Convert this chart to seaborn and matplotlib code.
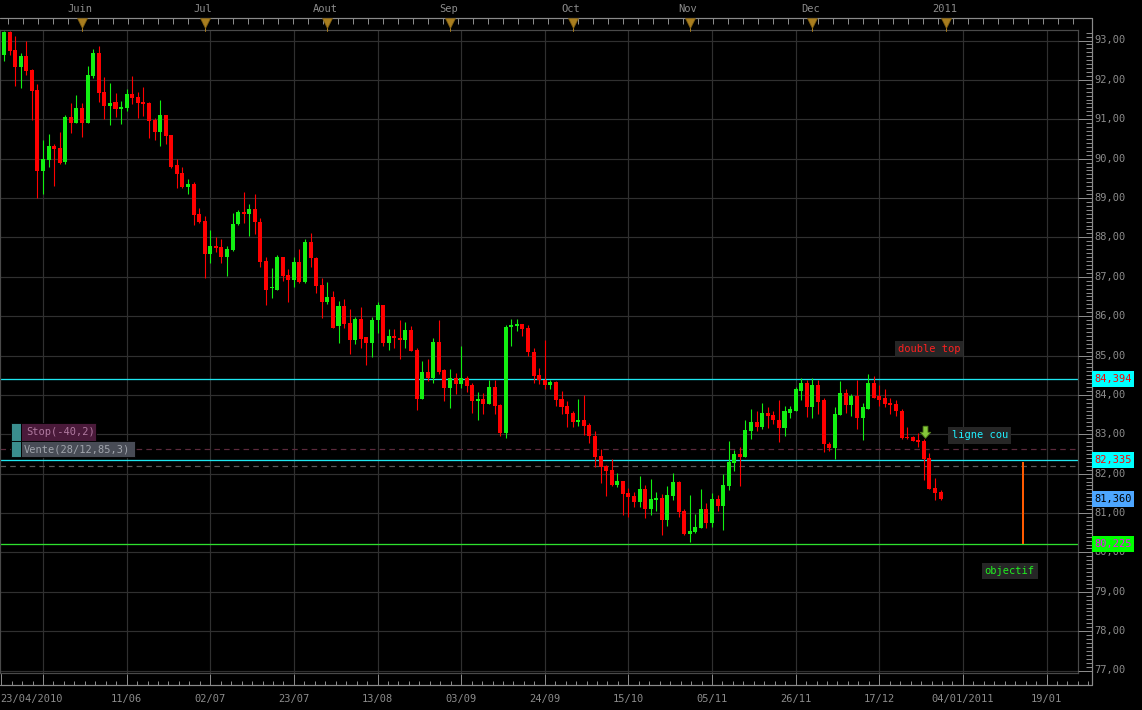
import numpy as np
import pandas as pd
import matplotlib
matplotlib.use("Agg")
import matplotlib.pyplot as plt
import matplotlib.transforms as mtransforms
from matplotlib.collections import LineCollection
from matplotlib.patches import Rectangle
from matplotlib.path import Path
import seaborn as sns

# daily candles (trading-day index 0..168)
opens = [92.64, 93.21, 92.75, 92.33, 92.60, 92.25, 91.74, 89.69, 89.97, 90.31,
         90.26, 89.92, 91.05, 90.91, 91.28, 90.91, 92.10, 92.68, 91.69, 91.34,
         91.43, 91.26, 91.29, 91.64, 91.56, 91.43, 91.41, 90.97, 90.68, 91.10,
         90.59, 89.83, 89.63, 89.27, 89.36, 88.60, 88.42, 87.59, 87.78, 87.76,
         87.49, 87.69, 88.33, 88.64, 88.60, 88.73, 88.40, 87.41, 86.71, 86.67,
         87.50, 87.05, 86.92, 87.38, 86.86, 87.89, 87.48, 86.80, 86.37, 86.49,
         85.75, 86.26, 85.83, 85.40, 85.93, 85.46, 85.31, 85.90, 86.29, 85.31,
         85.50, 85.45, 85.39, 85.65, 85.15, 83.89, 84.57, 84.44, 85.35, 84.62,
         84.17, 84.44, 84.28, 84.44, 84.24, 83.84, 83.89, 83.76, 84.19, 83.74,
         83.03, 85.73, 85.76, 85.81, 85.71, 85.10, 84.50, 84.37, 84.24, 84.32,
         83.89, 83.71, 83.54, 83.31, 83.36, 83.24, 82.96, 82.46, 82.20, 82.10,
         81.72, 81.82, 81.51, 81.44, 81.27, 81.61, 81.10, 81.33, 81.39, 80.82,
         81.44, 81.79, 81.05, 80.47, 80.51, 80.62, 81.11, 80.75, 81.36, 81.18,
         81.69, 82.28, 82.51, 82.43, 83.09, 83.32, 83.19, 83.55, 83.50, 83.37,
         83.17, 83.55, 83.60, 84.11, 84.29, 83.70, 84.24, 83.86, 82.76, 82.66,
         83.50, 84.06, 83.75, 83.98, 83.42, 83.65, 84.29, 83.96, 83.91, 83.80,
         83.78, 83.60, 82.93, 82.94, 82.86, 82.84, 82.40, 81.64, 81.54]
highs = [93.25, 93.25, 93.11, 92.69, 92.98, 92.27, 91.89, 90.48, 90.62, 90.38,
         90.67, 91.10, 91.41, 91.61, 91.42, 92.35, 92.78, 92.86, 92.07, 91.91,
         91.66, 91.46, 91.76, 92.09, 91.69, 91.81, 91.43, 91.04, 91.48, 91.10,
         90.59, 89.98, 89.78, 89.47, 89.41, 88.75, 88.55, 88.19, 88.00, 87.96,
         87.77, 88.63, 88.69, 89.16, 88.86, 89.11, 88.49, 87.51, 87.22, 87.56,
         87.50, 87.19, 87.50, 87.70, 87.96, 88.12, 87.51, 86.98, 86.87, 86.64,
         86.39, 86.43, 86.19, 85.97, 86.24, 85.48, 85.97, 86.36, 86.29, 85.68,
         85.68, 85.91, 85.84, 85.75, 85.20, 84.85, 84.90, 85.45, 85.90, 84.66,
         84.66, 84.56, 85.23, 84.49, 84.29, 84.07, 84.04, 84.37, 84.37, 83.76,
         85.78, 85.93, 85.93, 85.81, 85.78, 85.20, 84.67, 85.40, 84.37, 84.34,
         84.09, 83.84, 83.59, 83.89, 83.99, 83.29, 83.07, 82.62, 82.23, 82.38,
         82.01, 81.82, 81.63, 81.54, 81.94, 81.72, 81.87, 81.54, 81.49, 81.69,
         82.02, 81.82, 81.10, 81.46, 80.98, 81.61, 81.26, 81.51, 81.46, 82.00,
         82.84, 82.61, 82.68, 83.35, 83.63, 83.58, 83.80, 83.68, 83.60, 83.88,
         83.73, 83.73, 84.21, 84.44, 84.37, 84.44, 84.39, 83.93, 82.81, 83.70,
         84.34, 84.14, 84.03, 84.39, 83.80, 84.54, 84.47, 84.24, 84.16, 83.93,
         83.88, 83.63, 83.19, 82.95, 83.02, 82.89, 82.53, 81.89, 81.59]
lows = [92.48, 92.63, 91.84, 91.80, 92.12, 90.97, 89.00, 89.09, 89.79, 89.30,
        89.86, 89.86, 90.65, 90.91, 90.55, 90.91, 92.05, 91.44, 91.00, 90.86,
        91.05, 90.88, 91.20, 91.38, 91.03, 91.07, 90.52, 90.47, 90.32, 90.37,
        89.76, 89.25, 89.25, 89.10, 88.31, 88.37, 86.98, 87.34, 87.64, 87.36,
        87.03, 87.66, 88.31, 88.36, 88.03, 88.08, 87.24, 86.28, 86.47, 86.67,
        86.88, 86.35, 86.75, 86.83, 86.83, 87.25, 86.58, 85.94, 86.32, 85.69,
        85.33, 85.71, 85.03, 85.30, 85.19, 84.75, 84.95, 85.58, 85.24, 85.13,
        85.20, 84.90, 85.20, 85.12, 83.61, 83.89, 84.34, 84.29, 84.54, 83.84,
        83.66, 84.02, 84.17, 84.08, 83.54, 83.37, 83.51, 83.76, 83.51, 82.96,
        82.91, 85.23, 85.61, 85.50, 85.00, 84.29, 84.27, 84.14, 84.14, 83.71,
        83.51, 83.18, 83.18, 83.21, 82.98, 82.78, 82.17, 81.76, 81.42, 81.69,
        81.67, 80.94, 80.91, 81.16, 81.16, 80.88, 80.95, 81.04, 80.44, 80.66,
        81.33, 80.91, 80.44, 80.27, 80.49, 80.62, 80.62, 80.65, 81.05, 80.57,
        81.59, 82.07, 81.69, 82.43, 82.89, 83.07, 83.14, 83.17, 83.27, 82.81,
        82.96, 83.42, 83.60, 83.86, 83.45, 83.40, 83.52, 82.56, 82.58, 82.38,
        83.50, 83.55, 83.47, 83.14, 82.86, 83.65, 83.93, 83.73, 83.68, 83.52,
        83.47, 82.89, 82.89, 82.84, 82.68, 81.84, 81.61, 81.32, 81.32]
closes = [93.21, 92.74, 92.33, 92.60, 92.23, 91.72, 89.69, 89.98, 90.31, 90.24,
          89.90, 91.05, 90.91, 91.28, 90.91, 92.12, 92.68, 91.67, 91.34, 91.42,
          91.26, 91.31, 91.64, 91.54, 91.42, 91.38, 90.96, 90.68, 91.10, 90.58,
          89.80, 89.60, 89.27, 89.36, 88.58, 88.40, 87.59, 87.79, 87.74, 87.49,
          87.70, 88.34, 88.64, 88.60, 88.73, 88.38, 87.38, 86.67, 86.74, 87.50,
          87.03, 86.92, 87.38, 86.86, 87.89, 87.47, 86.77, 86.37, 86.49, 85.71,
          86.26, 85.81, 85.40, 85.93, 85.43, 85.31, 85.91, 86.29, 85.31, 85.50,
          85.44, 85.39, 85.65, 85.12, 83.89, 84.57, 84.44, 85.35, 84.59, 84.17,
          84.44, 84.28, 84.44, 84.22, 83.84, 83.89, 83.76, 84.19, 83.71, 83.03,
          85.73, 85.78, 85.81, 85.68, 85.08, 84.47, 84.37, 84.24, 84.32, 83.87,
          83.69, 83.51, 83.31, 83.36, 83.21, 82.95, 82.42, 82.18, 82.07, 81.72,
          81.82, 81.49, 81.41, 81.27, 81.61, 81.10, 81.36, 81.39, 80.82, 81.46,
          81.79, 81.03, 80.47, 80.55, 80.65, 81.11, 80.75, 81.36, 81.18, 81.72,
          82.30, 82.51, 82.43, 83.12, 83.32, 83.19, 83.55, 83.47, 83.35, 83.17,
          83.58, 83.63, 84.14, 84.29, 83.70, 84.24, 83.83, 82.74, 82.66, 83.52,
          84.06, 83.75, 83.98, 83.42, 83.68, 84.29, 83.93, 83.88, 83.78, 83.75,
          83.58, 82.91, 82.90, 82.84, 82.81, 82.38, 81.61, 81.51, 81.36]

# axis labels
price_ticks = list(range(77, 94))
month_idx = [14, 36, 58, 80, 102, 123, 145, 169]
month_labels = ["Juin", "Jul", "Aout", "Sep", "Oct", "Nov", "Dec", "2011"]
grid_idx = [7 + 15 * k for k in range(13)]
date_idx = grid_idx[1:]
date_labels = ["11/06", "02/07", "23/07", "13/08", "03/09", "24/09", "15/10",
               "05/11", "26/11", "17/12", "04/01/2011", "19/01"]
first_label = "23/04/2010"

# drawn levels
resistance = 84.394
neckline = 82.335
target = 80.225
last_price = closes[-1]
order_level = 82.62
stop_level = 82.19
target_idx = 182.7
arrow_idx, arrow_price = 165.2, 83.03

# pixel geometry of the original screen
W, H = 1142, 710
STEP, X0 = 5.575, 4.0
PLOT_R, PLOT_T, PLOT_B = 1078, 30.3, 673.3
Y93, PPU = 40.5, 39.375
RULER_R = 1092
GRAY = "#8c8c8c"
FS = 7.5
PX = 0.72  # one pixel in points


def idx_at(px):
    return (px - X0) / STEP


def price_at(py):
    return 93 - (py - Y93) / PPU


sns.set_theme(style="dark", rc={
    "axes.facecolor": "#000000",
    "figure.facecolor": "#000000",
    "axes.edgecolor": "#4a4a4a",
    "grid.color": "#2e2e2e",
    "text.color": GRAY,
    "lines.scale_dashes": False,
})
plt.rcParams["font.family"] = ["DejaVu Sans Mono", "DejaVu Sans"]

df = pd.DataFrame({"open": opens, "high": highs, "low": lows, "close": closes})
df["i"] = np.arange(len(df))
df["up"] = df["close"] >= df["open"]
df["color"] = np.where(df["up"], "#12f012", "#ff0000")
df["bottom"] = df[["open", "close"]].min(axis=1)
df["body"] = (df["close"] - df["open"]).abs().clip(lower=0.03)

fig = plt.figure(figsize=(W / 100, H / 100), dpi=100)
ax = fig.add_axes([0, 1 - PLOT_B / H, PLOT_R / W, (PLOT_B - PLOT_T) / H])
ax.set_xlim(idx_at(0), idx_at(PLOT_R))
ax.set_ylim(price_at(PLOT_B), price_at(PLOT_T))

ax.set_yticks(price_ticks)
ax.set_xticks(grid_idx)
ax.grid(True, color="#303030", lw=PX * 1.2)
ax.tick_params(left=False, bottom=False, labelleft=False, labelbottom=False)
for s in ax.spines.values():
    s.set_color("#4a4a4a")
    s.set_linewidth(PX * 1.2)

# candles
ax.vlines(df["i"], df["low"], df["high"], colors=df["color"], lw=PX * 1.1, zorder=3)
ax.bar(df["i"], df["body"], bottom=df["bottom"], width=0.72,
       color=df["color"], lw=0, zorder=4)

# levels
ax.axhline(resistance, color="#1ee6f0", lw=PX * 1.3, zorder=2)
ax.axhline(neckline, color="#1ee6f0", lw=PX * 1.3, zorder=2)
ax.axhline(target, color="#2ee02e", lw=PX * 1.3, zorder=2)
ax.axhline(order_level, color="#5c2a3c", lw=PX * 1.2, ls=(0, (4, 3)), zorder=2)
ax.axhline(stop_level, color="#5a5a5a", lw=PX * 1.2, ls=(0, (4, 3)), zorder=2)
ax.vlines(target_idx, target, neckline - 0.03, color="#ff5a00", lw=PX * 2.0, zorder=2)

# down arrow signal
arrow = Path([(-0.3, 0.9), (0.3, 0.9), (0.3, 0.15), (0.65, 0.15), (0, -0.6),
              (-0.65, 0.15), (-0.3, 0.15), (-0.3, 0.9)])
ax.scatter([arrow_idx], [arrow_price], marker=arrow, s=110, color="#86c83a",
           edgecolors="#4f7d18", linewidths=0.6, zorder=6)

# chart notes
notes = [(165.9, 85.17, "double top", "#ff2020"),
         (175.0, 82.97, "ligne cou", "#20f0ff"),
         (180.4, 79.52, "objectif", "#20f020")]
for x, y, txt, c in notes:
    ax.text(x, y, txt, color=c, fontsize=FS, ha="center", va="center", zorder=7,
            bbox=dict(boxstyle="square,pad=0.3", fc="#262626", ec="none"))

# overlay in screen pixels for the rulers and widgets
ov = fig.add_axes([0, 0, 1, 1], zorder=5)
ov.set_xlim(0, W)
ov.set_ylim(H, 0)
ov.axis("off")
ov.patch.set_visible(False)
bx = mtransforms.blended_transform_factory(ax.transData, ov.transData)
by = mtransforms.blended_transform_factory(ov.transData, ax.transData)
RC = "#8a8a8a"

# top ruler
ov.plot([0, RULER_R], [18, 18], color=RC, lw=PX * 1.2)
top_ticks = [[(x, 18), (x, 24)] for x in np.arange(8.3, PLOT_R, 15.0)]
ov.add_collection(LineCollection(top_ticks, colors=RC, lw=PX))
for m, lab in zip(month_idx, month_labels):
    ov.plot([m, m], [24, 31], color="#a87d1e", lw=PX, transform=bx)
    ov.plot([m], [22.5], marker="v", ms=7.5, color="#a87d1e", mec="#7a5a10",
            mew=0.5, transform=bx)
    ov.text(m - 0.3, 9, lab, color=GRAY, fontsize=FS, ha="center", va="center",
            transform=bx)

# right price ruler
ov.plot([RULER_R, RULER_R], [18, 685], color=RC, lw=PX * 1.2)
minor_p = np.round(np.arange(77.0, 93.26, 0.1), 1)
rticks = []
for p in minor_p:
    if abs(p - round(p)) < 1e-6:
        continue
    rticks.append([(RULER_R - 6, p), (RULER_R, p)])
ov.add_collection(LineCollection(rticks, colors=RC, lw=PX, transform=by))
major = [[(PLOT_R, p), (RULER_R, p)] for p in price_ticks]
ov.add_collection(LineCollection(major, colors=RC, lw=PX, transform=by))
for p in price_ticks:
    ov.text(1094, p, f"{p},00", color=GRAY, fontsize=FS, ha="left", va="center",
            transform=by)

tags = [(resistance, "84,394", "#00ffff", "#ff0000"),
        (neckline, "82,335", "#00ffff", "#ff0000"),
        (last_price, "81,360", "#4da6ff", "#000000"),
        (target, "80,225", "#00ff00", "#ff00ff")]
for v, txt, fc, tc in tags:
    ov.add_patch(Rectangle((RULER_R, v - 8 / PPU), 42, 16 / PPU, fc=fc, ec="none",
                           transform=by, zorder=3))
    ov.text(1094, v, txt, color=tc, fontsize=FS, ha="left", va="center",
            transform=by, zorder=4)

# bottom date ruler
ov.plot([0, RULER_R], [685, 685], color=RC, lw=PX * 1.2)
minor_x = np.arange(7 - 15 / 8 * 3, idx_at(RULER_R), 15 / 8)
bticks = [[(x, 681), (x, 685)] for x in minor_x]
ov.add_collection(LineCollection(bticks, colors=RC, lw=PX, transform=bx))
bmaj = [[(x, 674), (x, 685)] for x in grid_idx]
ov.add_collection(LineCollection(bmaj, colors=RC, lw=PX, transform=bx))
ov.plot([1, 1], [674, 685], color=RC, lw=PX)
ov.text(0, 699, first_label, color=GRAY, fontsize=FS, ha="left", va="center")
for x, lab in zip(date_idx, date_labels):
    ov.text(x, 699, lab, color=GRAY, fontsize=FS, ha="center", va="center",
            transform=bx)

# order widgets on the left
ov.add_patch(Rectangle((11, 423), 10, 18, fc="#3a8e8e", ec="#000000", lw=0.6))
ov.add_patch(Rectangle((21, 423), 75, 18, fc="#4a1a3a", ec="#000000", lw=0.6))
ov.text(26, 432, "Stop(-40,2)", color="#b07aa0", fontsize=FS, ha="left", va="center")
ov.add_patch(Rectangle((11, 441), 10, 16, fc="#3a8e8e", ec="#000000", lw=0.6))
ov.add_patch(Rectangle((21, 441), 114, 16, fc="#484c56", ec="#000000", lw=0.6))
ov.text(24, 449, "Vente(28/12,85,3)", color="#a0a4ac", fontsize=FS, ha="left",
        va="center")

fig.savefig("out.png", dpi=100, facecolor="#000000")
